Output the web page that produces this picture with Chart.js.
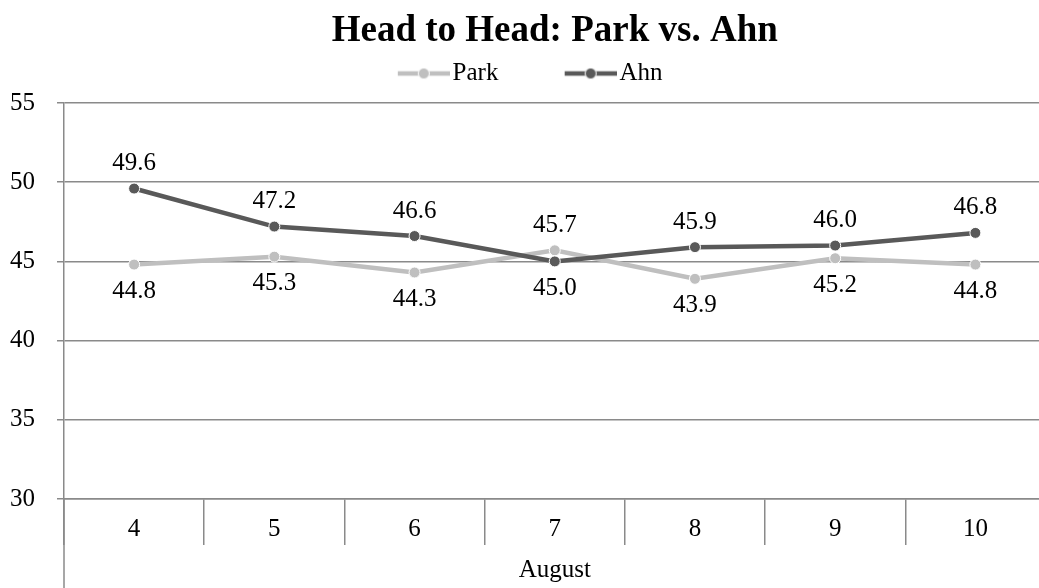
<!DOCTYPE html>
<html><head><meta charset="utf-8">
<script src="https://cdn.jsdelivr.net/npm/chart.js@4/dist/chart.umd.min.js"></script>
<style>
html,body{margin:0;padding:0;overflow:hidden;background:#fff;width:1039px;height:588px}
#wrap{width:1052px;height:588px;position:relative}
canvas{display:block}
</style>
</head><body><div id="wrap"><canvas id="c" width="1052" height="588"></canvas></div>
<script>
const categories = ['4', '5', '6', '7', '8', '9', '10'];
const groupLabel = 'August';
const seriesNames = ['Park', 'Ahn'];
const park = [44.8, 45.3, 44.3, 45.7, 43.9, 45.2, 44.8];
const ahn  = [49.6, 47.2, 46.6, 45.0, 45.9, 46.0, 46.8];
const parkLabelSide = ['below', 'below', 'below', 'above', 'below', 'below', 'below'];
const ahnLabelSide  = ['above', 'above', 'above', 'below', 'above', 'above', 'above'];
const yTicks = [30, 35, 40, 45, 50, 55];
const titleText = 'Head to Head: Park vs. Ahn';

const SERIF = '"Liberation Serif", "Times New Roman", serif';
const FS = 25;
const gridColor = '#8a8a8a';
const parkColor = '#BFBFBF';
const ahnColor = '#595959';

function legendMarker(color) {
  const c = document.createElement('canvas');
  c.width = 70; c.height = 14;
  const g = c.getContext('2d');
  g.strokeStyle = color; g.lineWidth = 4.5; g.lineCap = 'butt';
  g.beginPath(); g.moveTo(18, 7); g.lineTo(70, 7); g.stroke();
  g.beginPath(); g.arc(44, 7, 5.5, 0, Math.PI * 2);
  g.fillStyle = color; g.fill();
  g.lineWidth = 1; g.strokeStyle = '#fff'; g.stroke();
  return c;
}

const valueLabels = {
  id: 'valueLabels',
  afterDatasetsDraw(chart) {
    const ctx = chart.ctx;
    ctx.save();
    ctx.font = FS + 'px ' + SERIF;
    ctx.fillStyle = '#000';
    ctx.textAlign = 'center';
    ctx.textBaseline = 'middle';
    chart.data.datasets.forEach((ds, i) => {
      const meta = chart.getDatasetMeta(i);
      meta.data.forEach((pt, j) => {
        const off = ds.labelSide[j] === 'above' ? -25 : 27;
        ctx.fillText(ds.data[j].toFixed(1), pt.x, pt.y + off);
      });
    });
    ctx.restore();
  }
};

const axisExtension = {
  id: 'axisExtension',
  afterDraw(chart) {
    const ctx = chart.ctx, a = chart.chartArea;
    ctx.save();
    ctx.strokeStyle = gridColor; ctx.lineWidth = 1.5;
    ctx.beginPath();
    ctx.moveTo(a.left, a.bottom); ctx.lineTo(a.left, chart.height);
    ctx.stroke();
    ctx.restore();
  }
};

new Chart(document.getElementById('c'), {
  type: 'line',
  data: {
    labels: categories,
    datasets: [
      { label: seriesNames[0], data: park, labelSide: parkLabelSide, order: 2,
        borderColor: parkColor, backgroundColor: parkColor, borderWidth: 4.5,
        pointRadius: 5.5, pointHoverRadius: 5.5, pointBackgroundColor: parkColor,
        pointBorderColor: '#fff', pointBorderWidth: 1, tension: 0, fill: false },
      { label: seriesNames[1], data: ahn, labelSide: ahnLabelSide, order: 1,
        borderColor: ahnColor, backgroundColor: ahnColor, borderWidth: 4.5,
        pointRadius: 5.5, pointHoverRadius: 5.5, pointBackgroundColor: ahnColor,
        pointBorderColor: '#fff', pointBorderWidth: 1, tension: 0, fill: false }
    ]
  },
  options: {
    responsive: false,
    animation: false,
    devicePixelRatio: 1,
    layout: { padding: { top: 0, left: 0, right: 0, bottom: 0 } },
    plugins: {
      tooltip: { enabled: false },
      title: {
        display: true, text: titleText, fullSize: false, color: '#000',
        font: { family: SERIF, size: 37, weight: 'bold', lineHeight: 1.2 },
        padding: { top: 5.8, bottom: -50.2 }
      },
      subtitle: {
        display: true, text: '', weight: 500,
        font: { size: 7, lineHeight: 1 }, padding: { top: 0, bottom: 0 }
      },
      legend: {
        display: true, position: 'top', align: 'center',
        labels: {
          usePointStyle: true, pointStyleWidth: 50.5, padding: 58, color: '#000',
          font: { family: SERIF, size: FS },
          generateLabels(chart) {
            return chart.data.datasets.map((ds, i) => ({
              text: ds.label, datasetIndex: i, pointStyle: legendMarker(ds.borderColor),
              fillStyle: ds.borderColor, strokeStyle: ds.borderColor, lineWidth: 0,
              hidden: false, fontColor: '#000'
            }));
          }
        }
      }
    },
    scales: {
      x: {
        type: 'category', offset: true,
        grid: { offset: true, drawOnChartArea: false, drawTicks: true, tickLength: 46, color: gridColor, lineWidth: 1.5 },
        border: { display: true, color: gridColor, width: 1.5 },
        ticks: { color: '#000', font: { family: SERIF, size: FS }, padding: -30.5, maxRotation: 0, autoSkip: false },
        title: { display: true, text: groupLabel, color: '#000', font: { family: SERIF, size: FS }, padding: { top: 0, bottom: 3 } },
        afterFit(s) { s.height = 89; }
      },
      y: {
        min: yTicks[0], max: yTicks[yTicks.length - 1],
        afterBuildTicks(s) { s.ticks = yTicks.map(v => ({ value: v })); },
        grid: { color: gridColor, lineWidth: 1.5, drawTicks: true, tickLength: 7 },
        border: { display: true, color: gridColor, width: 1.5 },
        ticks: { color: '#000', font: { family: SERIF, size: FS }, padding: 22 },
        afterFit(s) { s.width = 64; s.paddingTop = 103; }
      }
    }
  },
  plugins: [valueLabels, axisExtension]
});
</script>
</body></html>
